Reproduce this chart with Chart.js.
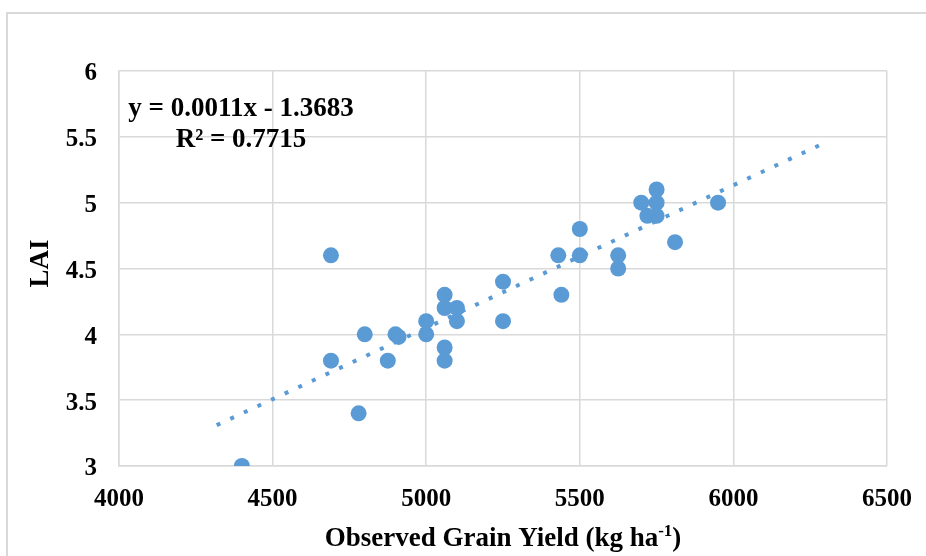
<!DOCTYPE html>
<html>
<head>
<meta charset="utf-8">
<script src="https://cdn.jsdelivr.net/npm/chart.js@4.4.0/dist/chart.umd.min.js"></script>
<style>
  html, body { margin: 0; padding: 0; background: #ffffff; }
  #wrap { position: relative; width: 926px; height: 556px; }
  #frame { position: absolute; left: 6px; top: 12px; right: -10px; bottom: -10px;
           border-left: 2px solid #d9d9d9; border-top: 2px solid #d9d9d9; pointer-events: none; }
  canvas { position: absolute; left: 0; top: 0; }
</style>
</head>
<body>
<div id="wrap">
  <canvas id="c" width="926" height="556"></canvas>
  <div id="frame"></div>
</div>
<script>
// Observed grain yield (kg ha-1)
const yieldObs = [4400, 4690, 4690, 4780, 4800, 4875, 4900, 4910, 5000, 5000,
                  5060, 5060, 5060, 5060, 5100, 5100, 5250, 5250, 5430, 5440,
                  5500, 5500, 5625, 5625, 5700, 5750, 5750, 5720, 5750, 5810, 5950];
// LAI
const laiObs   = [3.0, 4.6, 3.8, 3.4, 4.0, 3.8, 4.0, 3.98, 4.1, 4.0,
                  4.3, 4.2, 3.9, 3.8, 4.2, 4.1, 4.4, 4.1, 4.6, 4.3,
                  4.8, 4.6, 4.6, 4.5, 5.0, 5.1, 5.0, 4.9, 4.9, 4.7, 5.0];
// Trendline end points
const trendX = [4318, 6284];
const trendY = [3.31, 5.44];
// Axis ticks
const xTicks = [4000, 4500, 5000, 5500, 6000, 6500];
const yTicks = [3, 3.5, 4, 4.5, 5, 5.5, 6];
const eqLines = ["y = 0.0011x - 1.3683", "R\u00B2 = 0.7715"];
const xTitleMain = "Observed Grain Yield (kg ha";
const xTitleSup = "-1";
const xTitleEnd = ")";
const yTitle = "LAI";

const FONT = "'Liberation Serif', 'Times New Roman', serif";
const BLUE = "#5b9bd5";
const GRID = "#d9d9d9";

const points = yieldObs.map((x, i) => ({ x: x, y: laiObs[i] }));
const trend = trendX.map((x, i) => ({ x: x, y: trendY[i] }));

const textPlugin = {
  id: 'texts',
  afterDraw(chart) {
    const ctx = chart.ctx;
    const ca = chart.chartArea;
    ctx.save();
    ctx.fillStyle = '#000';
    // equation
    ctx.font = "bold 27px " + FONT;
    ctx.textAlign = 'center';
    ctx.textBaseline = 'middle';
    const ex = ca.left + 122;
    ctx.fillText(eqLines[0], ex, ca.top + 38);
    ctx.fillText(eqLines[1], ex, ca.top + 69);
    // y axis title
    ctx.save();
    ctx.translate(41, (ca.top + ca.bottom) / 2 - 5);
    ctx.rotate(-Math.PI / 2);
    ctx.font = "bold 27px " + FONT;
    ctx.fillText(yTitle, 0, 0);
    ctx.restore();
    // x axis title with superscript
    const mainF = "bold 27px " + FONT, supF = "bold 17px " + FONT;
    ctx.font = mainF; const w1 = ctx.measureText(xTitleMain).width;
    const w3 = ctx.measureText(xTitleEnd).width;
    ctx.font = supF; const w2 = ctx.measureText(xTitleSup).width;
    const total = w1 + w2 + w3;
    let x0 = (ca.left + ca.right) / 2 - total / 2;
    const by = 546;
    ctx.textAlign = 'left';
    ctx.textBaseline = 'alphabetic';
    ctx.font = mainF; ctx.fillText(xTitleMain, x0, by);
    ctx.font = supF; ctx.fillText(xTitleSup, x0 + w1, by - 10);
    ctx.font = mainF; ctx.fillText(xTitleEnd, x0 + w1 + w2, by);
    ctx.restore();
  }
};

new Chart(document.getElementById('c'), {
  type: 'scatter',
  data: {
    datasets: [
      {
        data: points,
        backgroundColor: BLUE,
        borderColor: BLUE,
        pointRadius: 8,
        pointBorderWidth: 0,
        order: 1
      },
      {
        type: 'line',
        data: trend,
        showLine: true,
        borderColor: BLUE,
        borderWidth: 4,
        borderDash: [4, 11],
        borderCapStyle: 'butt',
        pointRadius: 0,
        fill: false,
        order: 2
      }
    ]
  },
  plugins: [textPlugin],
  options: {
    responsive: false,
    animation: false,
    devicePixelRatio: 1,
    layout: { padding: { left: 0, right: 39, top: 71, bottom: 0 } },
    plugins: { legend: { display: false }, tooltip: { enabled: false }, title: { display: false } },
    scales: {
      x: {
        type: 'linear',
        min: 4000, max: 6500,
        afterBuildTicks: (s) => { s.ticks = xTicks.map(v => ({ value: v })); },
        afterFit: (s) => { s.height = 90; s.paddingRight = 0; s.paddingLeft = 0; },
        grid: { color: GRID, lineWidth: 1.5, drawTicks: false },
        border: { color: GRID, width: 1.5 },
        ticks: { color: '#000', font: { family: FONT, size: 25, weight: 'bold' }, padding: 19,
                 maxRotation: 0, autoSkip: false, callback: (v) => String(v) },
        title: { display: false }
      },
      y: {
        type: 'linear',
        min: 3, max: 6,
        afterBuildTicks: (s) => { s.ticks = yTicks.map(v => ({ value: v })); },
        afterFit: (s) => { s.width = 119; s.paddingTop = 0; s.paddingBottom = 0; },
        grid: { color: GRID, lineWidth: 1.5, drawTicks: false },
        border: { color: GRID, width: 1.5 },
        ticks: { color: '#000', font: { family: FONT, size: 25, weight: 'bold' }, padding: 22,
                 labelOffset: 3, autoSkip: false, callback: (v) => String(v) },
        title: { display: false }
      }
    }
  }
});
</script>
</body>
</html>
